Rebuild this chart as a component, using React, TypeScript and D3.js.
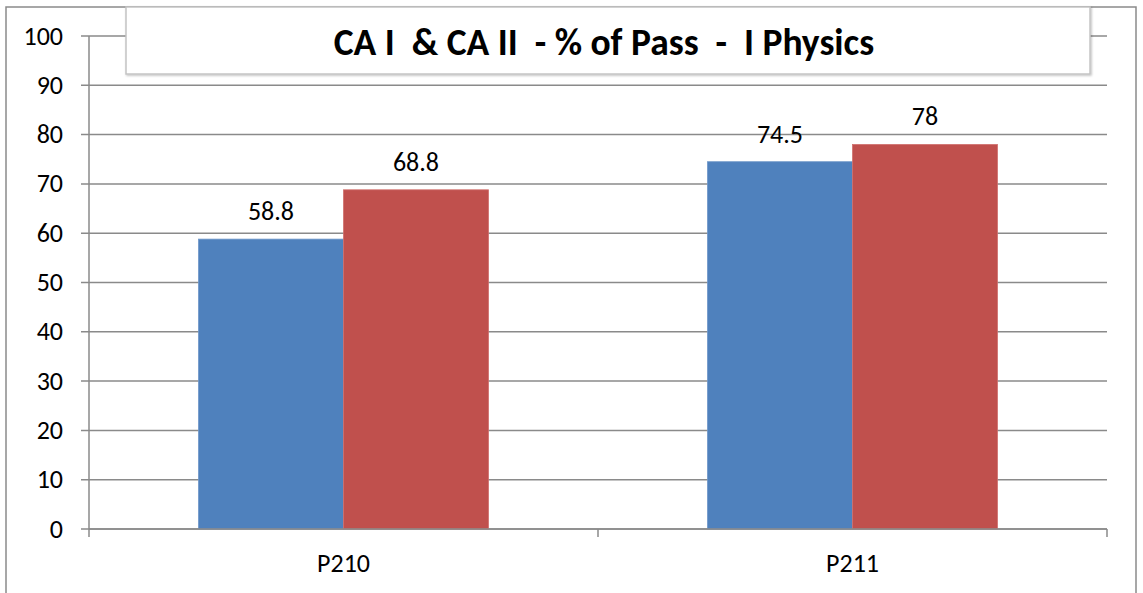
import React from "react";
import * as d3 from "d3";

const categories = ["P210", "P211"];
const seriesNames = ["CA I", "CA II"];
const caI = [58.8, 74.5];
const caII = [68.8, 78];
const yTicks = [0, 10, 20, 30, 40, 50, 60, 70, 80, 90, 100];
const title = "CA I  & CA II  - % of Pass  -  I Physics";
const colors = ["#4f81bd", "#c0504d"];

const W = 1143, H = 593;
const left = 89, right = 1107, top = 36, bottom = 529;
const font = "Carlito, 'Open Sans', 'Liberation Sans', sans-serif";

export default function App() {
  const y = d3.scaleLinear().domain([0, 100]).range([bottom, top]);
  const x0 = d3.scaleBand().domain(categories).range([left, right]).paddingInner(0).paddingOuter(0);
  const groupW = x0.bandwidth();
  const barW = groupW / 3.51;
  const series = [caI, caII];

  return (
    <svg width={W} height={H} style={{ position: "absolute", left: 0, top: 0 }}>
      <defs>
        <filter id="sh" x="-5%" y="-20%" width="110%" height="150%">
          <feDropShadow dx="1" dy="1" stdDeviation="1" floodColor="#000" floodOpacity="0.25" />
        </filter>
      </defs>
      <rect x={0} y={0} width={W} height={H} fill="#fff" />
      <rect x={6} y={7} width={1130} height={H + 20} fill="#fff" stroke="#8a8a8a" strokeWidth={1.5} />
      {yTicks.map((t) => (
        <g key={t}>
          <line x1={81} x2={right} y1={y(t)} y2={y(t)} stroke="#8a8a8a" strokeWidth={1.5} />
          <text x={63} y={y(t)} dy="0.33em" textAnchor="end" fontFamily={font} fontSize={26} fill="#000">{t}</text>
        </g>
      ))}
      {categories.map((c, i) => {
        const cx = (x0(c) as number) + groupW / 2;
        return (
          <g key={c}>
            {series.map((s, j) => {
              const bx = j === 0 ? cx - barW : cx;
              return (
                <g key={j}>
                  <rect x={bx} y={y(s[i])} width={barW} height={bottom - y(s[i])} fill={colors[j]} stroke={j === 0 ? "#6f97c9" : "#d0716e"} strokeWidth={0.8} />
                  <text x={bx + barW / 2} y={y(s[i]) - 19} textAnchor="middle" fontFamily={font} fontSize={26} fill="#000">{s[i]}</text>
                </g>
              );
            })}
            <text x={cx} y={572} textAnchor="middle" fontFamily={font} fontSize={26} fill="#000">{c}</text>
          </g>
        );
      })}
      <line x1={left} x2={left} y1={top} y2={bottom} stroke="#8a8a8a" strokeWidth={1.5} />
      <line x1={left} x2={right} y1={bottom} y2={bottom} stroke="#8a8a8a" strokeWidth={1.5} />
      {[left, left + groupW, right].map((tx, i) => (
        <line key={i} x1={tx} x2={tx} y1={bottom} y2={537} stroke="#8a8a8a" strokeWidth={1.5} />
      ))}
      <rect x={126} y={7} width={964} height={67} fill="#fff" stroke="#c4c4c4" strokeWidth={1.5} filter="url(#sh)" />
      <text x={604} y={42} dy="0.35em" textAnchor="middle" fontFamily={font} fontWeight="bold" fontSize={37.5} fill="#000" style={{ whiteSpace: "pre" }}>{title}</text>
      <title>{seriesNames.join(", ")}</title>
    </svg>
  );
}
